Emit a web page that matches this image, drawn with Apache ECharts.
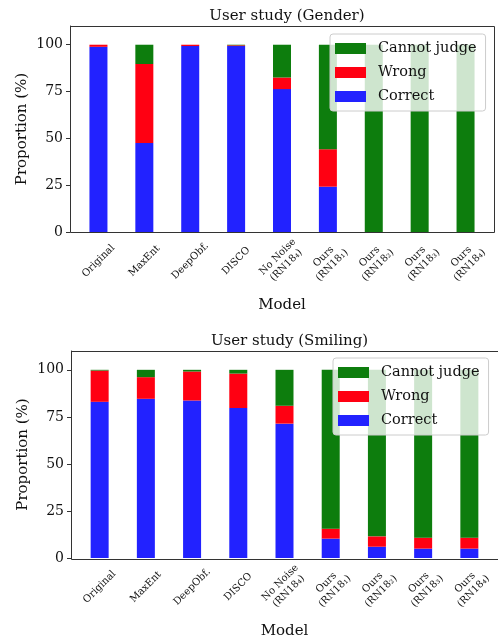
<!DOCTYPE html>
<html>
<head>
<meta charset="utf-8">
<script src="https://cdn.jsdelivr.net/npm/echarts@6/dist/echarts.min.js"></script>
<style>
  body { margin: 0; background: #fff; }
  #graficoGenero { width: 498px; height: 322px; }
  #graficoSonrisa { width: 498px; height: 322px; }
</style>
</head>
<body>
<div id="graficoGenero"></div>
<div id="graficoSonrisa"></div>
<script>
const modelos = ["Original", "MaxEnt", "DeepObf.", "DISCO", "No Noise\n(RN18₄)",
    "Ours\n(RN18₁)", "Ours\n(RN18₂)", "Ours\n(RN18₃)", "Ours\n(RN18₄)"];
const ticksY = [0, 25, 50, 75, 100];

const generoCorrecto = [98.9, 47.5, 99.3, 99.3, 76.3, 24.2, 0, 0, 0];
const generoErroneo = [1.1, 42.2, 0.7, 0.4, 6.2, 20.0, 0, 0, 0];
const generoNoJuzga = [0, 10.3, 0, 0.3, 17.5, 55.8, 100, 100, 100];

const sonrisaCorrecto = [83.0, 84.6, 83.7, 79.7, 71.4, 10.3, 6.0, 5.0, 5.0];
const sonrisaErroneo = [16.6, 11.5, 15.4, 18.3, 9.5, 5.3, 5.5, 5.8, 5.8];
const sonrisaNoJuzga = [0.4, 3.9, 0.9, 2.0, 19.1, 84.4, 88.5, 89.2, 89.2];

const FUENTE = "DejaVu Serif";

function dibujarGrafico(id, titulo, correcto, erroneo, noJuzga, caja) {
    // caja: marco de los ejes como en matplotlib
    const paso = caja.ancho / 9.24;
    const izq = caja.x + paso * 0.62 - paso / 2;
    const grafico = echarts.init(document.getElementById(id));
    grafico.setOption({
        animation: false,
        title: {
            text: titulo,
            left: caja.x + caja.ancho / 2,
            textAlign: "center",
            top: caja.tituloTop,
            textStyle: {fontFamily: FUENTE, fontSize: 15, fontWeight: "normal", color: "#111"}
        },
        legend: {
            data: ["Cannot judge", "Wrong", "Correct"],
            orient: "vertical",
            left: caja.legendaX,
            top: caja.legendaY,
            itemWidth: 31,
            itemHeight: 11,
            itemGap: 9,
            padding: [7, 9, 7, 5],
            backgroundColor: "rgba(255,255,255,0.8)",
            borderColor: "#cccccc",
            borderWidth: 1,
            borderRadius: 3,
            icon: "rect",
            textStyle: {fontFamily: FUENTE, fontSize: 14.5, color: "#111", padding: [0, 0, 0, 7]}
        },
        grid: {
            left: izq,
            top: caja.y,
            width: paso * 9,
            height: caja.alto
        },
        xAxis: {
            type: "category",
            data: modelos,
            name: "Model",
            nameLocation: "middle",
            nameGap: 66,
            nameMoveOverlap: false,
            nameTextStyle: {fontFamily: FUENTE, fontSize: 15, color: "#111"},
            axisLine: {show: false},
            axisTick: {alignWithLabel: true, length: 4, lineStyle: {color: "#333"}},
            axisLabel: {
                rotate: 45,
                align: "center",
                verticalAlign: "middle",
                margin: 29,
                interval: 0,
                fontFamily: FUENTE,
                fontSize: 10,
                lineHeight: 12,
                color: "#111"
            }
        },
        yAxis: {
            type: "value",
            min: 0,
            max: 110,
            interval: 25,
            offset: izq - caja.x,
            name: "Proportion (%)",
            nameLocation: "middle",
            nameGap: 40,
            nameMoveOverlap: false,
            nameTextStyle: {fontFamily: FUENTE, fontSize: 15, color: "#111"},
            splitLine: {show: false},
            axisLine: {show: true, lineStyle: {color: "#333"}},
            axisTick: {show: true, length: 4, customValues: ticksY, lineStyle: {color: "#333"}},
            axisLabel: {customValues: ticksY, margin: 7, fontFamily: FUENTE, fontSize: 14, color: "#111"}
        },
        graphic: [{
            type: "rect",
            z: 10,
            silent: true,
            shape: {x: caja.x + 0.5, y: caja.y + 0.5, width: caja.ancho, height: caja.alto},
            style: {fill: "none", stroke: "#333", lineWidth: 1}
        }],
        series: [
            {name: "Correct", type: "bar", stack: "total", barWidth: 18, data: correcto, itemStyle: {color: "#2222ff"}},
            {name: "Wrong", type: "bar", stack: "total", barWidth: 18, data: erroneo, itemStyle: {color: "#ff0012"}},
            {name: "Cannot judge", type: "bar", stack: "total", barWidth: 18, data: noJuzga, itemStyle: {color: "#0d7d0d"}}
        ]
    });
}

dibujarGrafico("graficoGenero", "User study (Gender)", generoCorrecto, generoErroneo, generoNoJuzga,
    {x: 70, y: 26, ancho: 424, alto: 206, tituloTop: 4, legendaX: 330, legendaY: 34});

dibujarGrafico("graficoSonrisa", "User study (Smiling)", sonrisaCorrecto, sonrisaErroneo, sonrisaNoJuzga,
    {x: 71, y: 29, ancho: 427, alto: 208, tituloTop: 7, legendaX: 333, legendaY: 36});
</script>
</body>
</html>
